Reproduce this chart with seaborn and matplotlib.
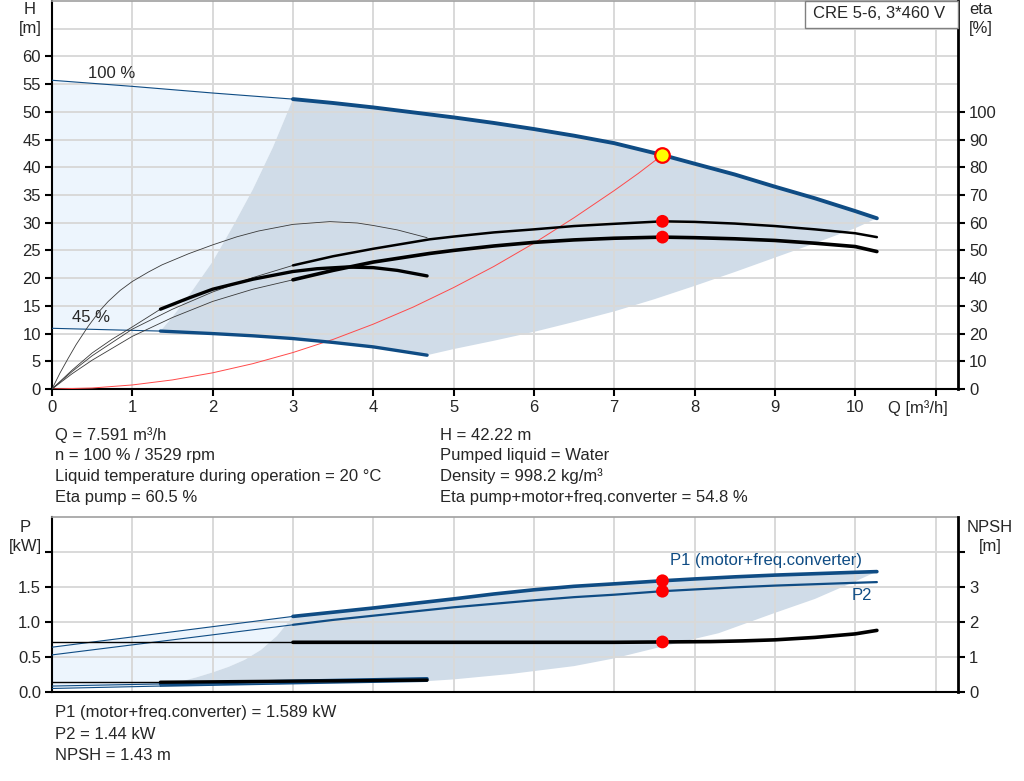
import numpy as np
import matplotlib
matplotlib.use("Agg")
import matplotlib.pyplot as plt
from matplotlib.patches import Rectangle
import seaborn as sns

# ---------------- data ----------------
# QH curves (H in m)
q100 = [0, 1, 2, 3, 3.5, 4, 4.5, 5, 5.5, 6, 6.5, 7, 7.6, 8, 8.5, 9, 9.5, 10, 10.27]
h100 = [55.7, 54.6, 53.4, 52.3, 51.6, 50.8, 49.9, 49.0, 48.0, 46.9, 45.7, 44.35, 42.22,
        40.65, 38.7, 36.5, 34.4, 32.1, 30.8]
q45 = [0, 1.35, 2, 2.5, 3, 3.5, 4, 4.67]
h45 = [10.95, 10.45, 10.0, 9.6, 9.1, 8.4, 7.6, 6.1]

# operating-range boundaries (H in m)
q_left = [1.35, 1.5, 1.75, 2.0, 2.25, 2.5, 2.75, 3.0]
h_left = [10.45, 13.0, 17.8, 23.0, 29.3, 36.0, 43.6, 52.3]
q_right = [4.67, 5, 5.5, 6, 6.5, 7, 7.5, 8, 8.5, 9, 9.5, 10, 10.27]
h_right = [6.1, 7.2, 8.7, 10.3, 12.1, 14.0, 16.2, 18.6, 21.1, 23.7, 26.3, 29.0, 30.8]

# system curve (H in m)
q_sys = [0, 0.5, 1, 1.5, 2, 2.5, 3, 3.5, 4, 4.5, 5, 5.5, 6, 6.5, 7, 7.3, 7.6]
h_sys = [0, 0.18, 0.73, 1.64, 2.92, 4.57, 6.58, 8.95, 11.7, 14.8, 18.3, 22.1, 26.3,
         30.9, 35.8, 38.9, 42.22]

# efficiency curves (eta in %)
q_etap100 = [0, 0.25, 0.5, 1, 1.5, 2, 2.5, 3, 3.5, 4, 4.7, 5, 5.5, 6, 6.5, 7, 7.6, 8,
             8.5, 9, 9.5, 10, 10.27]
etap100 = [0, 6.3, 12.0, 21.6, 28.8, 35.0, 40.2, 44.6, 47.9, 50.6, 54.0, 55.0, 56.5,
           57.6, 58.8, 59.6, 60.5, 60.3, 59.7, 58.8, 57.6, 56.2, 54.8]
q_etat100 = [0, 0.25, 0.5, 1, 1.5, 2, 2.5, 3, 3.5, 4, 4.7, 5, 5.5, 6, 6.5, 7, 7.6, 8,
             8.5, 9, 9.5, 10, 10.27]
etat100 = [0, 5.5, 10.4, 19.0, 25.8, 31.6, 36.0, 39.4, 42.8, 45.8, 48.9, 50.0, 51.6,
           52.9, 53.8, 54.4, 54.8, 54.6, 54.2, 53.6, 52.6, 51.4, 49.6]
q_etap45 = [0, 0.1, 0.2, 0.3, 0.45, 0.6, 0.7, 0.85, 1.0, 1.2, 1.37, 1.7, 2.0, 2.3, 2.57,
            3.0, 3.46, 3.8, 4.0, 4.3, 4.67]
etap45 = [0, 5.8, 11.0, 16.0, 22.6, 28.4, 31.6, 35.6, 38.8, 42.2, 44.8, 48.8, 52.0,
          54.9, 57.0, 59.4, 60.4, 59.9, 59.0, 57.4, 54.6]
q_etat45 = [0, 0.25, 0.5, 0.75, 1.0, 1.35, 1.7, 2, 2.5, 3, 3.3, 3.66, 4, 4.3, 4.67]
etat45 = [0, 6.8, 13.0, 18.0, 22.4, 28.8, 32.8, 36.0, 39.6, 42.4, 43.4, 44.0, 43.8,
          42.8, 40.8]

# power curves (kW) and NPSH (m)
q_p1 = [0, 3, 3.5, 4, 4.5, 5, 5.5, 6, 6.5, 7, 7.6, 8, 8.5, 9, 9.5, 10, 10.27]
p1 = [0.64, 1.08, 1.14, 1.20, 1.265, 1.33, 1.40, 1.46, 1.51, 1.545, 1.589, 1.615, 1.645,
      1.67, 1.69, 1.71, 1.72]
q_p2 = [0, 3, 3.5, 4, 4.5, 5, 5.5, 6, 6.5, 7, 7.6, 8, 8.5, 9, 9.5, 10, 10.27]
p2 = [0.53, 0.96, 1.03, 1.09, 1.15, 1.21, 1.26, 1.31, 1.355, 1.39, 1.44, 1.465, 1.495,
      1.52, 1.54, 1.56, 1.57]
q_npsh = [0, 3, 5, 7, 7.6, 8.2, 8.6, 9, 9.5, 10, 10.27]
npsh = [1.42, 1.42, 1.42, 1.42, 1.43, 1.44, 1.46, 1.49, 1.56, 1.66, 1.76]
q_p1_45 = [0, 1.35, 3, 4.67]
p1_45 = [0.085, 0.115, 0.155, 0.19]
q_p2_45 = [0, 1.35, 3, 4.67]
p2_45 = [0.05, 0.085, 0.12, 0.155]
q_npsh45 = [0, 1.35, 4.67]
npsh45 = [0.28, 0.28, 0.34]
q_pleft = [1.35, 1.6, 1.8, 2.0, 2.2, 2.4, 2.6, 2.8, 3.0]
p_left = [0.085, 0.15, 0.21, 0.28, 0.36, 0.46, 0.60, 0.80, 1.08]
q_pright = [4.67, 5, 5.73, 6.5, 7, 7.6, 8.3, 9, 9.5, 10, 10.27]
p_right = [0.155, 0.18, 0.26, 0.37, 0.48, 0.65, 0.84, 1.13, 1.33, 1.58, 1.72]

# duty point
q_duty = 7.6
h_duty = 42.22
eta_duty = [60.5, 54.8]
p_duty = [1.589, 1.44]
npsh_duty = 1.43

x_ticks = list(range(0, 12))
x_labels = [str(i) for i in range(0, 11)] + [""]
h_ticks = list(range(0, 65, 5))
eta_ticks = list(range(0, 110, 10))
p_ticks = [0, 0.5, 1.0, 1.5, 2.0]
p_labels = ["0.0", "0.5", "1.0", "1.5", ""]
npsh_ticks = [0, 1, 2, 3, 4]
npsh_labels = ["0", "1", "2", "3", ""]

info_left = ["Q = 7.591 m³/h", "n = 100 % / 3529 rpm",
             "Liquid temperature during operation = 20 °C", "Eta pump = 60.5 %"]
info_right = ["H = 42.22 m", "Pumped liquid = Water", "Density = 998.2 kg/m³",
              "Eta pump+motor+freq.converter = 54.8 %"]
info_bottom = ["P1 (motor+freq.converter) = 1.589 kW", "P2 = 1.44 kW", "NPSH = 1.43 m"]

# ---------------- style ----------------
sns.set_theme(style="white")
plt.rcParams["font.family"] = ["Liberation Sans", "DejaVu Sans"]
FS = 12
BLUE = "#0f4c84"
DARK = "#d0dce8"
LIGHT = "#edf5fd"
GRID = "#d9d9d9"
THIN = "#3a3a3a"

W, H = 1024, 781
fig = plt.figure(figsize=(W / 100, H / 100), dpi=100)
fig.patch.set_facecolor("white")


def ax_rect(l, t, r, b):
    return [l / W, 1 - b / H, (r - l) / W, (b - t) / H]


def line(ax, q, v, color, lw, z=3):
    sns.lineplot(x=np.asarray(q, float), y=np.asarray(v, float), ax=ax, color=color,
                 lw=lw, estimator=None, sort=False, legend=False, zorder=z)


def split_line(ax, q, v, qs, color, lw_thin, lw_thick, z=3, thin_color=None):
    q = np.asarray(q, float)
    v = np.asarray(v, float)
    m1 = q <= qs + 1e-9
    m2 = q >= qs - 1e-9
    line(ax, q[m1], v[m1], thin_color or color, lw_thin, z)
    line(ax, q[m2], v[m2], color, lw_thick, z + 0.1)


def style_axes(ax, ymax, yticks, ylabels, extra_grid):
    ax.set_xlim(0, 11.28)
    ax.set_ylim(0, ymax)
    ax.set_axisbelow(True)
    ax.set_xticks(x_ticks)
    ax.set_yticks(yticks)
    ax.set_yticklabels(ylabels, fontsize=FS)
    for s in ["left", "bottom"]:
        ax.spines[s].set_color("black")
        ax.spines[s].set_linewidth(1.5)
    ax.spines["top"].set_color("#a0a0a0")
    ax.spines["top"].set_linewidth(1.2)
    ax.spines["right"].set_visible(False)
    ax.grid(True, color=GRID, lw=1.4)
    for g in extra_grid:
        ax.axhline(g, color=GRID, lw=1.4, zorder=0.5)
    ax.tick_params(axis="y", which="major", direction="out", length=5, width=1.5,
                   color="black", labelsize=FS, pad=3, left=True)


# ---------------- top panel ----------------
ax = fig.add_axes(ax_rect(52, 1, 958, 389))
style_axes(ax, 70, h_ticks, [str(t) for t in h_ticks], [65])
ax.set_xticklabels(x_labels, fontsize=FS)
ax.tick_params(axis="x", direction="out", length=5, width=1.5, color="black",
               labelsize=FS, bottom=True, pad=3)

q100a = np.asarray(q100, float)
h100a = np.asarray(h100, float)
q45a = np.asarray(q45, float)
h45a = np.asarray(h45, float)
m_thin = q100a <= 3.0
m_thick = q100a >= 3.0
# light zone
lx = list(q100a[m_thin]) + q_left[::-1] + list(q45a[q45a <= 1.35][::-1])
ly = list(h100a[m_thin]) + h_left[::-1] + list(h45a[q45a <= 1.35][::-1])
ax.fill(lx, ly, color=LIGHT, lw=0, zorder=0.2)
# dark zone
dx = q_left + list(q100a[m_thick]) + q_right[::-1] + list(q45a[q45a >= 1.35][::-1])
dy = h_left + list(h100a[m_thick]) + h_right[::-1] + list(h45a[q45a >= 1.35][::-1])
ax.fill(dx, dy, color=DARK, lw=0, zorder=0.2)

split_line(ax, q100, h100, 3.0, BLUE, 0.8, 2.8, z=4)
split_line(ax, q45, h45, 1.35, BLUE, 0.8, 2.4, z=4)
line(ax, q_sys, h_sys, "#ff4a4a", 0.7, z=3)
ax.scatter([q_duty], [h_duty], s=110, color="#ffff00", edgecolor="#ff0000",
           linewidth=1.6, zorder=6)
ax.text(0.45, 57.0, "100 %", fontsize=FS, ha="left", va="center")
ax.text(0.25, 12.9, "45 %", fontsize=FS, ha="left", va="center")

axe = ax.twinx()
axe.set_ylim(0, 140)
axe.set_yticks(eta_ticks)
axe.set_yticklabels([str(t) for t in eta_ticks], fontsize=FS)
axe.grid(False)
for s in ["left", "top", "bottom"]:
    axe.spines[s].set_visible(False)
axe.spines["right"].set_color("black")
axe.spines["right"].set_linewidth(2)
axe.tick_params(axis="y", direction="out", length=5, width=1.5, color="black",
                labelsize=FS, pad=3, right=True)

line(axe, q_etap45, etap45, THIN, 0.6, z=3)
split_line(axe, q_etat45, etat45, 1.35, "black", 0.6, 2.4, z=3, thin_color=THIN)
split_line(axe, q_etap100, etap100, 3.0, "black", 0.6, 1.8, z=3, thin_color=THIN)
split_line(axe, q_etat100, etat100, 3.0, "black", 0.6, 2.6, z=3, thin_color=THIN)
sns.scatterplot(x=[q_duty, q_duty], y=eta_duty, ax=axe, s=85, color="#ff0000",
                edgecolor="none", zorder=6, legend=False)

# label box
fig.add_artist(Rectangle((805 / W, 1 - 28 / H), 153 / W, 27 / H, transform=fig.transFigure,
                         facecolor="white", edgecolor="#808080", lw=1.0, zorder=10))
fig.text(879 / W, 1 - 14 / H, "CRE 5-6, 3*460 V", fontsize=FS, ha="center", va="center",
         zorder=11)

fig.text(30 / W, 1 - 9 / H, "H", fontsize=FS, ha="center", va="center")
fig.text(30 / W, 1 - 29 / H, "[m]", fontsize=FS, ha="center", va="center")
fig.text(981 / W, 1 - 9 / H, "eta", fontsize=FS, ha="center", va="center")
fig.text(981 / W, 1 - 29 / H, "[%]", fontsize=FS, ha="center", va="center")
fig.text(918 / W, 1 - 408 / H, "Q [m³/h]", fontsize=FS, ha="center", va="center")

for i, t in enumerate(info_left):
    fig.text(55 / W, 1 - (435 + 20.7 * i) / H, t, fontsize=FS, ha="left", va="center")
for i, t in enumerate(info_right):
    fig.text(440 / W, 1 - (435 + 20.7 * i) / H, t, fontsize=FS, ha="left", va="center")

# ---------------- bottom panel ----------------
bx = fig.add_axes(ax_rect(52, 517, 958, 692))
style_axes(bx, 2.5, p_ticks, p_labels, [])
bx.set_xticklabels([])
bx.tick_params(axis="x", length=0)

qp1 = np.asarray(q_p1, float)
p1a = np.asarray(p1, float)
qp2_45 = np.asarray(q_p2_45, float)
p2_45a = np.asarray(p2_45, float)
mt = qp1 <= 3.0
mk = qp1 >= 3.0
blx = list(qp1[mt]) + q_pleft[::-1] + list(qp2_45[qp2_45 <= 1.35][::-1])
bly = list(p1a[mt]) + p_left[::-1] + list(p2_45a[qp2_45 <= 1.35][::-1])
bx.fill(blx, bly, color=LIGHT, lw=0, zorder=0.2)
bdx = q_pleft + list(qp1[mk]) + q_pright[::-1] + list(qp2_45[qp2_45 >= 1.35][::-1])
bdy = p_left + list(p1a[mk]) + p_right[::-1] + list(p2_45a[qp2_45 >= 1.35][::-1])
bx.fill(bdx, bdy, color=DARK, lw=0, zorder=0.2)

split_line(bx, q_p1, p1, 3.0, BLUE, 0.8, 2.6, z=4)
split_line(bx, q_p2, p2, 3.0, BLUE, 0.8, 1.6, z=4)
split_line(bx, q_p1_45, p1_45, 1.35, BLUE, 0.8, 2.4, z=4)
split_line(bx, q_p2_45, p2_45, 1.35, BLUE, 0.8, 1.2, z=4)
sns.scatterplot(x=[q_duty, q_duty], y=p_duty, ax=bx, s=85, color="#ff0000",
                edgecolor="none", zorder=6, legend=False)
bx.text(7.69, 1.88, "P1 (motor+freq.converter)", color=BLUE, fontsize=FS,
        ha="left", va="center")
bx.text(9.96, 1.38, "P2", color=BLUE, fontsize=FS, ha="left", va="center")

bn = bx.twinx()
bn.set_ylim(0, 5)
bn.set_yticks(npsh_ticks)
bn.set_yticklabels(npsh_labels, fontsize=FS)
bn.grid(False)
for s in ["left", "top", "bottom"]:
    bn.spines[s].set_visible(False)
bn.spines["right"].set_color("black")
bn.spines["right"].set_linewidth(2)
bn.tick_params(axis="y", direction="out", length=5, width=1.5, color="black",
               labelsize=FS, pad=3, right=True)
split_line(bn, q_npsh, npsh, 3.0, "black", 1.0, 2.6, z=3)
split_line(bn, q_npsh45, npsh45, 1.35, "black", 1.0, 2.4, z=3)
sns.scatterplot(x=[q_duty], y=[npsh_duty], ax=bn, s=85, color="#ff0000",
                edgecolor="none", zorder=6, legend=False)

fig.text(25 / W, 1 - 527 / H, "P", fontsize=FS, ha="center", va="center")
fig.text(25 / W, 1 - 547 / H, "[kW]", fontsize=FS, ha="center", va="center")
fig.text(990 / W, 1 - 527 / H, "NPSH", fontsize=FS, ha="center", va="center")
fig.text(990 / W, 1 - 547 / H, "[m]", fontsize=FS, ha="center", va="center")

for i, t in enumerate(info_bottom):
    fig.text(55 / W, 1 - (713 + 21.5 * i) / H, t, fontsize=FS, ha="left", va="center")

fig.savefig("out.png", dpi=100, facecolor="white")
